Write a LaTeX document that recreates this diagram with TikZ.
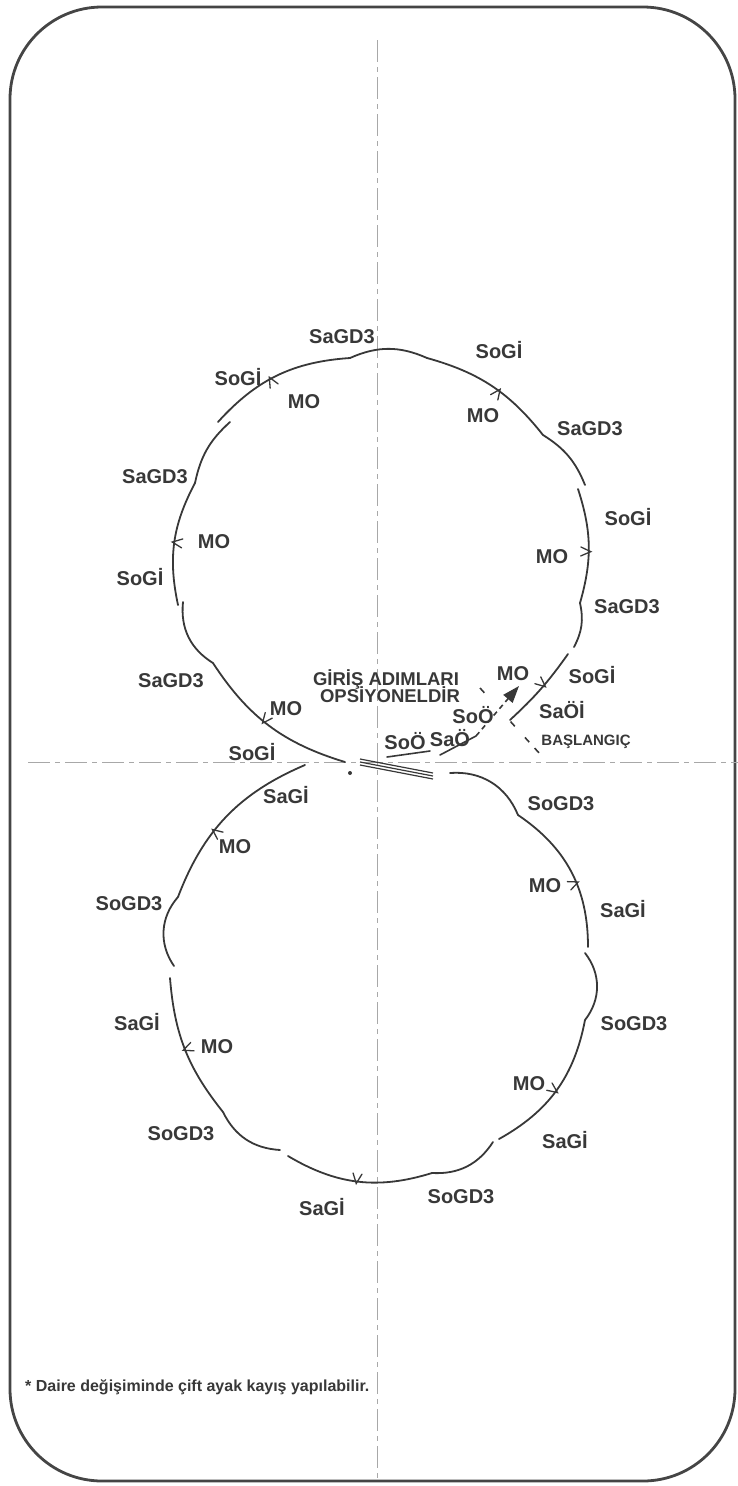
\documentclass[tikz,border=0pt]{standalone}
\usepackage{fontspec}
\setmainfont{Liberation Sans}
\usetikzlibrary{decorations.markings,arrows.meta}
\definecolor{ink}{HTML}{383838}
\definecolor{axiscol}{HTML}{A8A8A8}
\definecolor{framecol}{HTML}{454545}
\begin{document}
\begin{tikzpicture}[x=1pt,y=1pt,
  walk/.style={draw=ink, line width=1.8pt, line cap=round},
  mo/.style={postaction={decorate,decoration={markings,mark=at position #1 with {\draw[ink,line width=1.3pt,line cap=round] (-4.5pt,8pt) -- (0pt,-2pt) -- (4.5pt,8pt);}}}},
  lbl/.style={font=\bfseries\fontsize{20}{22}\selectfont, text=ink, inner sep=0pt, anchor=base},
  lblmid/.style={font=\bfseries\fontsize{18.5}{20}\selectfont, text=ink, inner sep=0pt, anchor=base},
  lblsmall/.style={font=\bfseries\fontsize{15}{17}\selectfont, text=ink, inner sep=0pt, anchor=base},
  axisline/.style={draw=axiscol, line width=1pt, dash pattern=on 22pt off 5pt on 5pt off 5pt},
  entry/.style={draw=ink, line width=1.6pt, line cap=round},
]
\useasboundingbox (0,0) rectangle (738,-1486);
% frame
\draw[framecol, line width=2.8pt, rounded corners=92pt] (10,-7) rectangle (735,-1481);
% axes
\coordinate (vtop) at (377,-40);
\coordinate (vbot) at (377,-1482);
\coordinate (hleft) at (28,-762);
\coordinate (hright) at (738,-762);
\draw[axisline] (vtop) -- (vbot);
\draw[axisline] (hleft) -- (hright);

% upper circle key points
\coordinate (u0) at (510,-720);
\coordinate (u1a) at (568,-654);
\coordinate (u1b) at (574,-647);
\coordinate (u2) at (580,-603);
\coordinate (u3a) at (578,-489);
\coordinate (u3b) at (585,-485);
\coordinate (u4) at (543,-435);
\coordinate (u5) at (427,-358);
\coordinate (u6) at (350,-358);
\coordinate (u7a) at (218,-422);
\coordinate (u7b) at (230,-422);
\coordinate (u8) at (195,-483);
\coordinate (u9a) at (178,-605);
\coordinate (u9b) at (183,-602);
\coordinate (u10) at (213,-663);
\coordinate (u11) at (345,-762);

\draw[walk,mo=0.55] (u0) to[bend right=6] (u1a);
\draw[walk] (u1b) to[bend right=20] (u2);
\draw[walk,mo=0.45] (u2) to[bend right=17] (u3a);
\draw[walk] (u3b) to[bend right=18] (u4);
\draw[walk,mo=0.44] (u4) to[bend right=18] (u5);
\draw[walk] (u5) to[bend right=24] (u6);
\draw[walk,mo=0.55] (u6) to[bend right=22] (u7a);
\draw[walk] (u7b) to[bend right=18] (u8);
\draw[walk,mo=0.5] (u8) to[bend right=20] (u9a);
\draw[walk] (u9b) to[bend right=32] (u10);
\draw[walk,mo=0.46] (u10) to[bend right=20] (u11);

% lower circle key points
\coordinate (l0) at (305,-765);
\coordinate (l1) at (178,-897);
\coordinate (l2a) at (174,-966);
\coordinate (l2b) at (170,-978);
\coordinate (l3) at (223,-1112);
\coordinate (l4a) at (280,-1150);
\coordinate (l4b) at (288,-1156);
\coordinate (l5) at (432,-1173);
\coordinate (l6a) at (493,-1142);
\coordinate (l6b) at (499,-1139);
\coordinate (l7) at (585,-1020);
\coordinate (l8a) at (585,-953);
\coordinate (l8b) at (588,-947);
\coordinate (l9) at (518,-815);
\coordinate (l10) at (450,-773);

\draw[walk,mo=0.6] (l0) to[bend right=23] (l1);
\draw[walk] (l1) to[bend right=38] (l2a);
\draw[walk,mo=0.5] (l2b) to[bend right=17] (l3);
\draw[walk] (l3) to[bend right=30] (l4a);
\draw[walk,mo=0.49] (l4b) to[bend right=24] (l5);
\draw[walk] (l5) to[bend right=30] (l6a);
\draw[walk,mo=0.49] (l6b) to[bend right=25] (l7);
\draw[walk] (l7) to[bend right=38] (l8a);
\draw[walk,mo=0.42] (l8b) to[bend right=28] (l9);
\draw[walk] (l9) to[bend right=36] (l10);

% centre: change of circle
\coordinate (t1) at (360,-762);
\coordinate (t2) at (433,-776);
\draw[ink, line width=1.2pt] (360,-759) -- (433,-773);
\draw[ink, line width=1.2pt] (t1) -- (t2);
\draw[ink, line width=1.2pt] (360,-765) -- (433,-779);
\fill[ink] (350,-773) circle (2pt);

% entry steps
\coordinate (e1) at (387,-757);
\coordinate (e2) at (430,-751);
\coordinate (e3) at (440,-755);
\coordinate (e4) at (476,-736);
\coordinate (e5) at (519,-686);
\draw[entry] (e1) -- (e2);
\draw[entry] (e3) -- (e4);
\draw[draw=ink, line width=1.6pt, dash pattern=on 5pt off 4pt, -{Triangle[length=17pt,width=12pt]}] (e4) -- (e5);
\coordinate (s1) at (480,-688);
\coordinate (s2) at (540,-754);
\draw[draw=ink, line width=1.6pt, dash pattern=on 6.4pt off 39pt on 6.4pt off 15pt on 6.4pt off 8pt on 6.4pt off 50pt] (s1) -- (s2);

% labels upper circle
\node[lbl] (a1) at (342,-343) {SaGD3};
\node[lbl] (a2) at (238,-385) {SoGİ};
\node[lbl] (a3) at (304,-408) {MO};
\node[lbl] (a4) at (155,-483) {SaGD3};
\node[lbl] (a5) at (214,-548) {MO};
\node[lbl] (a6) at (140,-585) {SoGİ};
\node[lbl] (a7) at (171,-687) {SaGD3};
\node[lbl] (a8) at (286,-715) {MO};
\node[lbl] (a9) at (252,-760) {SoGİ};
\node[lbl] (b1) at (499,-358) {SoGİ};
\node[lbl] (b2) at (483,-422) {MO};
\node[lbl] (b3) at (590,-435) {SaGD3};
\node[lbl] (b4) at (628,-525) {SoGİ};
\node[lbl] (b5) at (552,-563) {MO};
\node[lbl] (b6) at (627,-613) {SaGD3};
\node[lbl] (b7) at (513,-680) {MO};
\node[lbl] (b8) at (592,-683) {SoGİ};
\node[lbl] (b9) at (562,-718) {SaÖİ};
\node[lblsmall] (b10) at (586,-745) {BAŞLANGIÇ};
\node[lblmid] (c1) at (386,-685) {GİRİŞ ADIMLARI};
\node[lblmid] (c2) at (390,-702) {OPSİYONELDİR};
\node[lbl] (c3) at (405,-749) {SoÖ};
\node[lbl] (c4) at (450,-746) {SaÖ};
\node[lbl] (c5) at (473,-723) {SoÖ};

% labels lower circle
\node[lbl] (d1) at (286,-803) {SaGİ};
\node[lbl] (d2) at (235,-853) {MO};
\node[lbl] (d3) at (129,-910) {SoGD3};
\node[lbl] (d4) at (137,-1030) {SaGİ};
\node[lbl] (d5) at (217,-1053) {MO};
\node[lbl] (d6) at (181,-1140) {SoGD3};
\node[lbl] (d7) at (322,-1215) {SaGİ};
\node[lbl] (d8) at (461,-1203) {SoGD3};
\node[lbl] (f1) at (561,-810) {SoGD3};
\node[lbl] (f2) at (545,-892) {MO};
\node[lbl] (f3) at (623,-917) {SaGİ};
\node[lbl] (f4) at (634,-1030) {SoGD3};
\node[lbl] (f5) at (529,-1090) {MO};
\node[lbl] (f6) at (565,-1148) {SaGİ};

% footnote
\node[font=\bfseries\fontsize{16}{18}\selectfont, text=ink, inner sep=0pt, anchor=base west] (note) at (25,-1391) {* Daire değişiminde çift ayak kayış yapılabilir.};
\end{tikzpicture}
\end{document}
